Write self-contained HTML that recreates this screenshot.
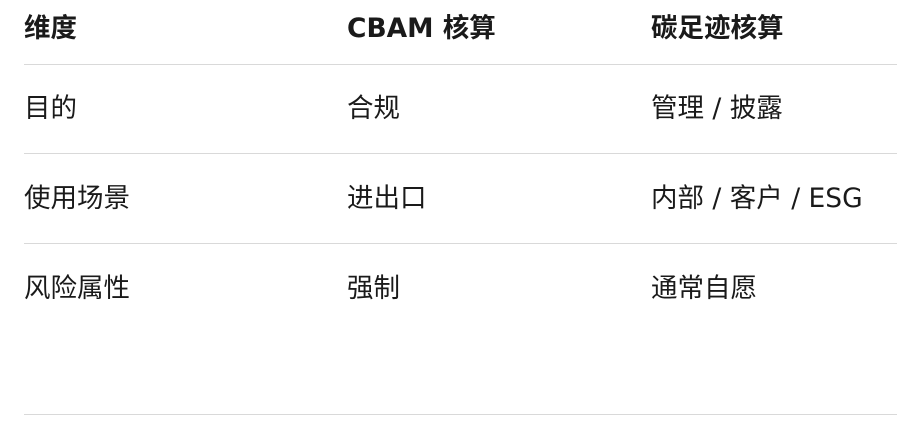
<!DOCTYPE html>
<html><head><meta charset="utf-8"><style>
body{margin:0;width:898px;height:432px;background:#fff;position:relative;overflow:hidden;font-family:"DejaVu Sans","Noto Sans CJK SC",sans-serif;color:#1a1a1a;}
.t{position:absolute;font-size:26.5px;line-height:34px;white-space:nowrap;}
.b{font-weight:bold;}
.l{position:absolute;left:24px;width:873px;height:1px;background:#d9d9d9;}
</style></head><body>
<div class="t b" style="left:24px;top:12px">维度</div>
<div class="t b" style="left:347px;top:12px">CBAM 核算</div>
<div class="t b" style="left:651px;top:12px">碳足迹核算</div>
<div class="l" style="top:64px"></div>
<div class="t" style="left:24px;top:92px">目的</div>
<div class="t" style="left:347px;top:92px">合规</div>
<div class="t" style="left:651px;top:92px">管理 / 披露</div>
<div class="l" style="top:153px"></div>
<div class="t" style="left:24px;top:182px">使用场景</div>
<div class="t" style="left:347px;top:182px">进出口</div>
<div class="t" style="left:651px;top:182px">内部 / 客户 / ESG</div>
<div class="l" style="top:243px"></div>
<div class="t" style="left:24px;top:272px">风险属性</div>
<div class="t" style="left:347px;top:272px">强制</div>
<div class="t" style="left:651px;top:272px">通常自愿</div>
<div class="l" style="top:414px"></div>
</body></html>
